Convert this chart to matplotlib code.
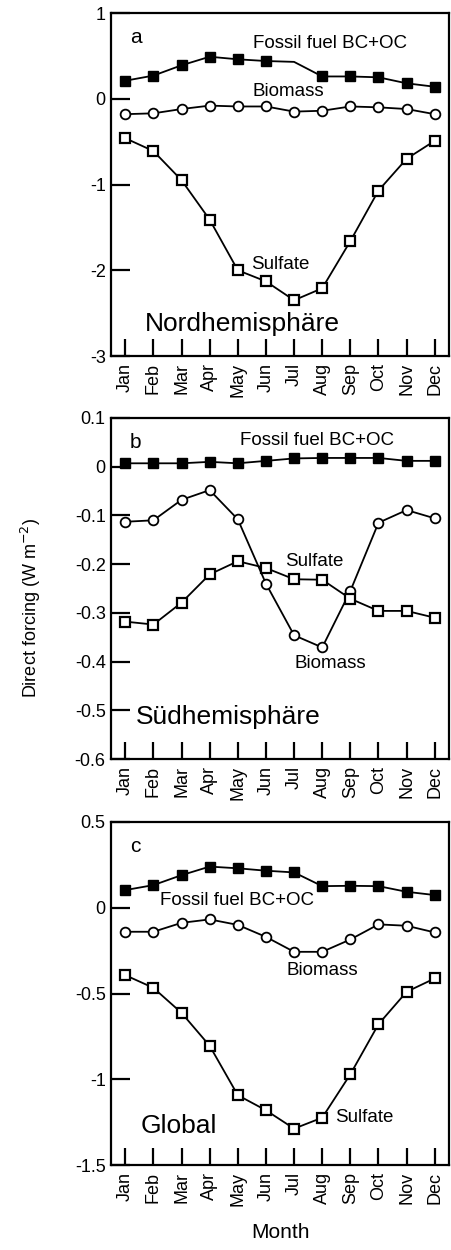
import numpy as np
import matplotlib
matplotlib.use("Agg")
import matplotlib.pyplot as plt
from matplotlib.ticker import FuncFormatter

plt.rcParams['font.family'] = ['Liberation Sans', 'DejaVu Sans']
plt.rcParams['axes.unicode_minus'] = False

months = ["Jan", "Feb", "Mar", "Apr", "May", "Jun",
          "Jul", "Aug", "Sep", "Oct", "Nov", "Dec"]

# a: Nordhemisphaere
nh_fossil = [0.21, 0.27, 0.39, 0.49, 0.46, 0.44, 0.43, 0.26, 0.26, 0.25, 0.18, 0.14]
nh_biomass = [-0.18, -0.17, -0.12, -0.08, -0.09, -0.09, -0.15, -0.14, -0.09, -0.10, -0.12, -0.18]
nh_sulfate = [-0.46, -0.61, -0.95, -1.41, -2.00, -2.13, -2.35, -2.21, -1.66, -1.07, -0.70, -0.49]

# b: Suedhemisphaere
sh_fossil = [0.007, 0.007, 0.007, 0.010, 0.007, 0.012, 0.017, 0.018, 0.018, 0.018, 0.012, 0.012]
sh_biomass = [-0.113, -0.110, -0.068, -0.048, -0.108, -0.240, -0.346, -0.371, -0.255, -0.115, -0.089, -0.106]
sh_sulfate = [-0.318, -0.324, -0.279, -0.221, -0.194, -0.208, -0.231, -0.232, -0.271, -0.296, -0.296, -0.310]

# c: Global
gl_fossil = [0.103, 0.132, 0.19, 0.24, 0.23, 0.216, 0.206, 0.126, 0.128, 0.126, 0.093, 0.074]
gl_biomass = [-0.14, -0.14, -0.088, -0.068, -0.10, -0.17, -0.257, -0.257, -0.185, -0.097, -0.105, -0.144]
gl_sulfate = [-0.393, -0.467, -0.613, -0.805, -1.093, -1.181, -1.288, -1.224, -0.971, -0.679, -0.49, -0.412]

x = np.arange(1, 13)

fig = plt.figure(figsize=(4.52, 12.5), dpi=100)
L, W = 0.246, 0.747
boxes = [(L, 0.7152, W, 0.2744), (L, 0.3928, W, 0.2728), (L, 0.068, W, 0.2744)]

panels = [
    dict(letter="a", fossil=nh_fossil, biomass=nh_biomass, sulfate=nh_sulfate,
         ylim=(-3, 1), yticks=[1, 0, -1, -2, -3], fossil_skip=[6],
         labels=[("Fossil fuel BC+OC", 8.26, 0.65), ("Biomass", 6.8, 0.086),
                 ("Sulfate", 6.5, -1.93)],
         region=("Nordhemisphäre", 5.16, -2.63)),
    dict(letter="b", fossil=sh_fossil, biomass=sh_biomass, sulfate=sh_sulfate,
         ylim=(-0.6, 0.1), yticks=[0.1, 0, -0.1, -0.2, -0.3, -0.4, -0.5, -0.6], fossil_skip=[],
         labels=[("Fossil fuel BC+OC", 7.8, 0.053), ("Sulfate", 7.73, -0.195),
                 ("Biomass", 8.3, -0.404)],
         region=("Südhemisphäre", 4.66, -0.514)),
    dict(letter="c", fossil=gl_fossil, biomass=gl_biomass, sulfate=gl_sulfate,
         ylim=(-1.5, 0.5), yticks=[0.5, 0, -0.5, -1, -1.5], fossil_skip=[],
         labels=[("Fossil fuel BC+OC", 4.98, 0.045), ("Biomass", 8.02, -0.364),
                 ("Sulfate", 9.49, -1.224)],
         region=("Global", 2.9, -1.27)),
]

for box, p in zip(boxes, panels):
    ax = fig.add_axes(box)
    keep = [i for i in range(12) if i not in p["fossil_skip"]]
    ax.plot(x, p["fossil"], color="black", lw=1.3, marker="s", ms=6.5,
            mfc="black", mec="black", markevery=keep)
    ax.plot(x, p["biomass"], color="black", lw=1.3, marker="o", ms=7,
            mfc="white", mec="black", mew=1.3)
    ax.plot(x, p["sulfate"], color="black", lw=1.3, marker="s", ms=7,
            mfc="white", mec="black", mew=1.6)
    ax.set_xlim(0.5, 12.5)
    ax.set_ylim(*p["ylim"])
    ax.set_yticks(p["yticks"])
    ax.yaxis.set_major_formatter(FuncFormatter(lambda v, pos: "%g" % round(v, 3)))
    ax.set_xticks(x)
    ax.set_xticklabels(months, rotation=90, fontsize=13)
    ax.tick_params(axis="x", direction="in", length=12, width=1.6, pad=5)
    ax.tick_params(axis="y", direction="in", length=14, width=1.6, labelsize=13, pad=4)
    for s in ax.spines.values():
        s.set_linewidth(1.6)
    ax.text(0.055, 0.955, p["letter"], transform=ax.transAxes, fontsize=15,
            ha="left", va="top")
    for txt, tx, ty in p["labels"]:
        ax.text(tx, ty, txt, fontsize=13.5, ha="center", va="center")
    rt, rx, ry = p["region"]
    ax.text(rx, ry, rt, fontsize=19, ha="center", va="center")

fig.text(0.069, 0.514, "Direct forcing (W m$^{-2}$)", rotation=90,
         fontsize=13, ha="center", va="center")
fig.text(0.62, 0.006, "Month", fontsize=15, ha="center", va="bottom")

fig.savefig("out.png", dpi=100)
